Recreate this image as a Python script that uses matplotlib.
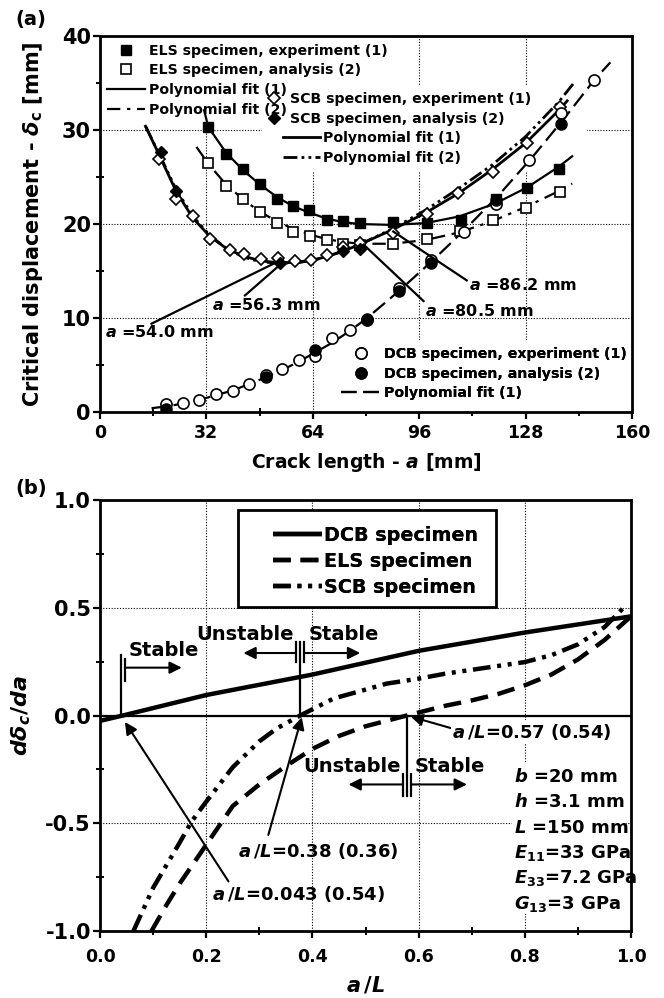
"""Critical displacement vs crack length (a) and its derivative d(delta_c)/da (b)
for DCB / ELS / SCB specimens."""

import matplotlib.pyplot as plt
from matplotlib.lines import Line2D
from matplotlib.patches import Rectangle
from matplotlib.ticker import MultipleLocator

plt.rcParams.update({
    "font.family": "DejaVu Sans",
    "font.weight": "bold",
    "axes.labelweight": "bold",
    "axes.unicode_minus": False,
    "mathtext.fontset": "custom",
    "mathtext.rm": "DejaVu Sans:bold",
    "mathtext.it": "DejaVu Sans:italic:bold",
    "mathtext.bf": "DejaVu Sans:bold",
    "axes.linewidth": 2.0,
})

# ---------------- panel (a) data: crack length a [mm] vs delta_c [mm] ----------------
els_exp_a = [32.6, 37.9, 43.1, 48.1, 53.1, 57.9, 62.9, 68.2, 73.2, 78.2, 88.0, 98.2, 108.5, 119.1, 128.4, 138.1]
els_exp_d = [30.3, 27.5, 25.9, 24.3, 22.7, 21.9, 21.5, 20.4, 20.3, 20.1, 20.2, 20.1, 20.4, 22.7, 23.8, 25.9]
els_ana_a = [32.6, 37.9, 43.1, 48.1, 53.1, 58.0, 63.2, 68.2, 73.2, 78.2, 88.1, 98.3, 108.4, 118.2, 128.2, 138.2]
els_ana_d = [26.5, 24.0, 22.7, 21.3, 20.1, 19.2, 18.7, 18.3, 17.9, 17.8, 17.9, 18.4, 19.3, 20.4, 21.7, 23.4]
els_fit1_a = [31.3, 32.6, 37.9, 43.1, 48.1, 53.1, 58, 63, 68, 73, 78, 88, 98, 108, 119, 128.5, 138, 142]
els_fit1_d = [32.1, 30.3, 27.6, 25.7, 24.2, 22.9, 21.9, 21.2, 20.6, 20.2, 20.0, 19.9, 20.1, 20.8, 22.2, 23.9, 26.1, 27.2]
els_fit2_a = [29, 32.6, 37.9, 43.1, 48.1, 53.1, 58, 63, 68, 73, 78, 88, 98, 108, 118, 128, 138, 142]
els_fit2_d = [28.2, 26.4, 24.2, 22.6, 21.3, 20.3, 19.5, 18.9, 18.4, 18.1, 17.9, 17.9, 18.3, 19.1, 20.3, 21.8, 23.5, 24.3]

scb_exp_a = [17.8, 23.0, 28.1, 33.1, 39.1, 43.3, 48.3, 53.6, 58.6, 63.6, 68.4, 73.2, 78.2, 88.0, 98.4, 107.8, 118.3, 128.3, 138.3]
scb_exp_d = [26.9, 22.7, 20.9, 18.4, 17.2, 16.8, 16.3, 16.4, 16.1, 16.2, 16.7, 17.6, 18.0, 19.0, 21.1, 23.3, 25.5, 28.6, 32.5]
scb_ana_a = [18.2, 23.0, 54.1, 73.0, 78.2]
scb_ana_d = [27.7, 23.5, 15.8, 17.1, 17.3]
scb_fit1_a = [13.7, 18, 23, 28, 33, 38, 43, 48, 53, 58, 63, 68, 73, 78, 88, 98, 108, 118, 128, 138, 140.5]
scb_fit1_d = [30.4, 27.2, 23.4, 20.6, 18.7, 17.4, 16.6, 16.1, 15.9, 15.9, 16.1, 16.5, 17.1, 17.8, 19.4, 21.2, 23.3, 25.8, 28.6, 32.1, 33.1]
scb_fit2_a = [13.7, 18, 23, 28, 33, 38, 43, 48, 54, 60, 66, 73, 78, 88, 98, 108, 118, 128, 138, 142.5]
scb_fit2_d = [30.4, 27.3, 23.6, 20.8, 18.8, 17.4, 16.5, 16.0, 15.8, 15.9, 16.3, 17.1, 17.8, 19.5, 21.5, 23.8, 26.3, 29.3, 33.0, 35.0]

dcb_exp_a = [19.8, 25.1, 29.9, 34.9, 39.9, 44.9, 49.9, 54.7, 59.7, 64.8, 69.9, 75.3, 80.3, 89.8, 99.5, 109.4, 119.1, 129.1, 138.6, 148.6]
dcb_exp_d = [0.9, 1.0, 1.3, 1.9, 2.2, 3.0, 3.9, 4.6, 5.5, 6.0, 7.9, 8.7, 9.8, 13.2, 16.2, 19.2, 22.1, 26.8, 31.8, 35.3]
dcb_ana_a = [19.8, 49.9, 64.8, 80.3, 89.8, 99.5, 119.1, 138.6]
dcb_ana_d = [0.3, 3.7, 6.6, 9.9, 12.9, 15.9, 22.6, 30.6]
dcb_fit_a = [15.5, 20, 25, 30, 35, 40, 45, 50, 55, 60, 65, 70, 75, 80, 90, 100, 110, 120, 130, 140, 148.6, 153.5]
dcb_fit_d = [0.4, 0.6, 0.9, 1.3, 1.8, 2.3, 3.0, 3.7, 4.5, 5.4, 6.4, 7.4, 8.6, 9.9, 12.9, 16.1, 19.5, 23.1, 27.1, 31.4, 35.3, 37.2]

# minimum / crossing labels: (text, text x, text y, line from, line to)
min_notes = [
    (r"$a$ =54.0 mm", 1.5, 8.5, (15.5, 9.4), (52.9, 15.9)),
    (r"$a$ =56.3 mm", 33.6, 11.4, (43.6, 12.4), (54.6, 15.8)),
    (r"$a$ =86.2 mm", 110.9, 13.5, (110.3, 14.0), (88.2, 19.2)),
    (r"$a$ =80.5 mm", 97.6, 10.7, (97.3, 11.8), (79.3, 17.8)),
]

# ---------------- panel (b) data: a/L vs d(delta_c)/da ----------------
dcb_aL = [0.0, 0.043, 0.2, 0.4, 0.6, 0.8, 1.0]
dcb_slope = [-0.025, 0.0, 0.095, 0.19, 0.30, 0.385, 0.46]
els_aL = [0.097, 0.125, 0.15, 0.2, 0.25, 0.3, 0.35, 0.4, 0.45, 0.5, 0.578, 0.65, 0.7, 0.75, 0.8, 0.85, 0.9, 0.95, 1.0]
els_slope = [-1.0, -0.88, -0.78, -0.60, -0.42, -0.32, -0.235, -0.155, -0.095, -0.05, 0.0, 0.045, 0.07, 0.10, 0.14,
             0.19, 0.26, 0.35, 0.46]
scb_aL = [0.063, 0.1, 0.15, 0.173, 0.2, 0.25, 0.3, 0.333, 0.377, 0.44, 0.5, 0.54, 0.6, 0.65, 0.75, 0.8, 0.85, 0.9,
          0.95, 0.99]
scb_slope = [-1.0, -0.80, -0.59, -0.49, -0.40, -0.24, -0.12, -0.06, 0.0, 0.079, 0.12, 0.148, 0.171, 0.194, 0.23,
             0.248, 0.28, 0.33, 0.41, 0.51]

# stability limits: (x, marker top, bar bottom, arrow y, left-arrow end, right-arrow end, label y)
limits = [
    (0.377, 0.343, 0.25, 0.29, 0.27, 0.49, 0.375),
    (0.578, -0.375, -0.27, -0.32, 0.468, 0.691, -0.237),
]
crossing_notes = [
    (r"$a\,/L$=0.57 (0.54)", (0.663, -0.075), (0.663, -0.06), (0.585, -0.005)),
    (r"$a\,/L$=0.38 (0.36)", (0.26, -0.63), (0.317, -0.554), (0.38, -0.008)),
    (r"$a\,/L$=0.043 (0.54)", (0.21, -0.83), (0.242, -0.77), (0.047, -0.03)),
]
params = [r"$b$ =20 mm", r"$h$ =3.1 mm", r"$L$ =150 mm",
          r"$E_{\mathit{11}}$=33 GPa", r"$E_{\mathit{33}}$=7.2 GPa", r"$G_{\mathit{13}}$=3 GPa"]
params_y = [-0.284, -0.40, -0.52, -0.64, -0.755, -0.875]

GRID = dict(color="k", lw=0.8, ls=(0, (1, 1.5)))
ARW = dict(arrowstyle="-|>", color="k", lw=1.5, mutation_scale=18, shrinkA=0, shrinkB=0)

fig = plt.figure(figsize=(6.64, 9.98), dpi=100)
ax1 = fig.add_axes([100 / 664, 1 - 412 / 998, 532 / 664, 376 / 998])
ax2 = fig.add_axes([100 / 664, 1 - 931 / 998, 531 / 664, 431 / 998])

# ===================== (a) =====================
ax1.set_axisbelow(True)
ax1.grid(True, which="major", **GRID)

open_sq = dict(marker="s", ms=7.5, mfc="white", mec="k", mew=1.2, ls="none")
fill_sq = dict(marker="s", ms=7.5, mfc="k", mec="k", ls="none")
open_di = dict(marker="D", ms=6.5, mfc="white", mec="k", mew=1.2, ls="none")
fill_di = dict(marker="D", ms=6.5, mfc="k", mec="k", ls="none")
open_ci = dict(marker="o", ms=8, mfc="white", mec="k", mew=1.2, ls="none")
fill_ci = dict(marker="o", ms=8, mfc="k", mec="k", ls="none")

st_els1 = dict(color="k", lw=1.6, ls="-")
st_els2 = dict(color="k", lw=1.6, ls=(0, (6, 3, 1.5, 3)))
st_scb1 = dict(color="k", lw=2.0, ls="-")
st_scb2 = dict(color="k", lw=2.0, ls=(0, (5, 1.5, 1, 1.5, 1, 1.5)))
st_dcb = dict(color="k", lw=1.6, ls=(0, (7, 3)))

# white areas behind the legend blocks hide the grid there
for x0, y0, w, h in [(0, 30.2, 87, 9.8), (48.7, 25.5, 97.8, 9.3), (71, 0, 89, 7.7)]:
    ax1.add_patch(Rectangle((x0, y0), w, h, facecolor="white", edgecolor="none", zorder=1))

ax1.plot(els_fit1_a, els_fit1_d, zorder=6, **st_els1)
ax1.plot(els_fit2_a, els_fit2_d, zorder=6, **st_els2)
ax1.plot(scb_fit1_a, scb_fit1_d, zorder=6, **st_scb1)
ax1.plot(scb_fit2_a, scb_fit2_d, zorder=6, **st_scb2)
ax1.plot(dcb_fit_a, dcb_fit_d, zorder=6, **st_dcb)
ax1.plot(els_exp_a, els_exp_d, zorder=7, **fill_sq)
ax1.plot(els_ana_a, els_ana_d, zorder=7, **open_sq)
ax1.plot(scb_exp_a, scb_exp_d, zorder=7, **open_di)
ax1.plot(scb_ana_a, scb_ana_d, zorder=7, **fill_di)
ax1.plot(dcb_exp_a, dcb_exp_d, zorder=7, **open_ci)
ax1.plot(dcb_ana_a, dcb_ana_d, zorder=7, **fill_ci)

for txt, tx, ty, p0, p1 in min_notes:
    ax1.plot([p0[0], p1[0]], [p0[1], p1[1]], color="k", lw=1.6, zorder=8)
    ax1.text(tx, ty, txt, fontsize=11.5, ha="left", va="center", zorder=8)

LEG_FS = 10.2


def add_legend(ax, handles, labels, anchor, hl, pad, fs=LEG_FS, spacing=0.4):
    leg = ax.legend(handles, labels, loc="upper left", bbox_to_anchor=anchor, bbox_transform=ax.transAxes,
                    fontsize=fs, handlelength=hl, handletextpad=pad, labelspacing=spacing, borderpad=0.4,
                    borderaxespad=0, numpoints=1, frameon=False)
    leg.set_zorder(5)
    ax.add_artist(leg)
    return leg


add_legend(ax1, [Line2D([], [], **fill_sq), Line2D([], [], **open_sq),
                 Line2D([], [], **st_els1), Line2D([], [], **st_els2)],
           ["ELS specimen, experiment (1)", "ELS specimen, analysis (2)",
            "Polynomial fit (1)", "Polynomial fit (2)"],
           (0.002, 0.995), 2.7, 0.25)
add_legend(ax1, [Line2D([], [], **open_di), Line2D([], [], **fill_di)],
           ["SCB specimen, experiment (1)", "SCB specimen, analysis (2)"],
           (0.303, 0.866), 1.0, 0.63)
add_legend(ax1, [Line2D([], [], **st_scb1), Line2D([], [], **st_scb2)],
           ["Polynomial fit (1)", "Polynomial fit (2)"],
           (0.333, 0.762), 2.63, 0.2)
add_legend(ax1, [Line2D([], [], **open_ci), Line2D([], [], **fill_ci), Line2D([], [], **st_dcb)],
           ["DCB specimen, experiment (1)", "DCB specimen, analysis (2)", "Polynomial fit (1)"],
           (0.443, 0.188), 2.82, 0.17)

ax1.set_xlim(0, 160)
ax1.set_ylim(0, 40)
ax1.xaxis.set_major_locator(MultipleLocator(32))
ax1.xaxis.set_minor_locator(MultipleLocator(16))
ax1.yaxis.set_major_locator(MultipleLocator(10))
ax1.yaxis.set_minor_locator(MultipleLocator(5))
ax1.set_xlabel(r"Crack length - $a$ [mm]", fontsize=13.5)
ax1.set_ylabel(r"Critical displacement - $\delta_\mathrm{c}$ [mm]", fontsize=15)
ax1.xaxis.set_label_coords(0.5, -0.104)
ax1.yaxis.set_label_coords(-0.103, 0.5)

# ===================== (b) =====================
ax2.set_axisbelow(True)
ax2.grid(True, which="major", **GRID)
ax2.axhline(0, color="k", lw=1.6, zorder=3)

st_b_dcb = dict(color="k", lw=3.2, ls="-", solid_capstyle="butt")
st_b_els = dict(color="k", lw=3.2, ls=(0, (4, 2.2)))
st_b_scb = dict(color="k", lw=3.2, ls=(0, (4, 1.5, 0.9, 1.5, 0.9, 1.5)))
ax2.plot(dcb_aL, dcb_slope, zorder=6, **st_b_dcb)
ax2.plot(els_aL, els_slope, zorder=6, **st_b_els)
ax2.plot(scb_aL, scb_slope, zorder=6, **st_b_scb)

# legend box drawn separately (its padding is not symmetric)
ax2.add_patch(Rectangle((0.26, 0.752), 0.485, 0.224, transform=ax2.transAxes,
                        facecolor="white", edgecolor="k", lw=2.0, zorder=4))
add_legend(ax2, [Line2D([], [], **st_b_dcb), Line2D([], [], **st_b_els), Line2D([], [], **st_b_scb)],
           ["DCB specimen", "ELS specimen", "SCB specimen"],
           (0.311, 0.958), 2.57, 0.12, fs=13.8, spacing=0.36)

# DCB stability limit (stable side only)
ax2.plot([0.039, 0.039], [0.0, 0.28], color="k", lw=1.6, zorder=7)
ax2.plot([0.047, 0.047], [0.16, 0.26], color="k", lw=1.6, zorder=7)
ax2.annotate("", xy=(0.154, 0.222), xytext=(0.05, 0.222), arrowprops=ARW, zorder=7)
ax2.text(0.053, 0.30, "Stable", fontsize=14, ha="left", va="center")

for x0, top, bar, ay, left_end, right_end, ty in limits:
    ax2.plot([x0, x0], [0.0, top], color="k", lw=1.6, zorder=7)
    for dx in (-0.007, 0.007):
        ax2.plot([x0 + dx, x0 + dx], [bar, top], color="k", lw=1.6, zorder=7)
    ax2.annotate("", xy=(left_end, ay), xytext=(x0 - 0.01, ay), arrowprops=ARW, zorder=7)
    ax2.annotate("", xy=(right_end, ay), xytext=(x0 + 0.01, ay), arrowprops=ARW, zorder=7)
    ax2.text(x0 - 0.012, ty, "Unstable", fontsize=14, ha="right", va="center")
    ax2.text(x0 + 0.015, ty, "Stable", fontsize=14, ha="left", va="center")

for txt, tpos, tail, head in crossing_notes:
    ax2.annotate("", xy=head, xytext=tail, arrowprops=ARW, zorder=7)
    t = ax2.text(tpos[0], tpos[1], txt, fontsize=13, ha="left", va="center", zorder=8)
    if tpos[0] > 0.6:
        t.set_bbox(dict(facecolor="white", edgecolor="none", pad=1))

ax2.add_patch(Rectangle((0.775, -0.92), 0.215, 0.7, facecolor="white", edgecolor="none", zorder=2))
for txt, py in zip(params, params_y):
    ax2.text(0.779, py, txt, fontsize=13, ha="left", va="center", zorder=8)

ax2.set_xlim(0, 1)
ax2.set_ylim(-1, 1)
ax2.xaxis.set_major_locator(MultipleLocator(0.2))
ax2.xaxis.set_minor_locator(MultipleLocator(0.1))
ax2.yaxis.set_major_locator(MultipleLocator(0.5))
ax2.yaxis.set_minor_locator(MultipleLocator(0.25))
ax2.set_xlabel(r"$a\,/L$", fontsize=15)
ax2.set_ylabel(r"$d\delta_c/da$", fontsize=16)
ax2.xaxis.set_label_coords(0.5, -0.102)
ax2.yaxis.set_label_coords(-0.126, 0.5)

for ax in (ax1, ax2):
    ax.tick_params(which="major", direction="out", length=5, width=1.6)
    ax.tick_params(which="minor", direction="inout", length=6, width=1.4)
    ax.tick_params(axis="x", labelsize=12.5, pad=4)
    ax.tick_params(axis="y", labelsize=15, pad=1.5)
ax2.tick_params(axis="x", pad=7.5)

fig.text(15 / 664, 1 - 20 / 998, "(a)", fontsize=14, ha="left", va="center")
fig.text(15 / 664, 1 - 488 / 998, "(b)", fontsize=14, ha="left", va="center")

fig.savefig("out.png", dpi=100)
